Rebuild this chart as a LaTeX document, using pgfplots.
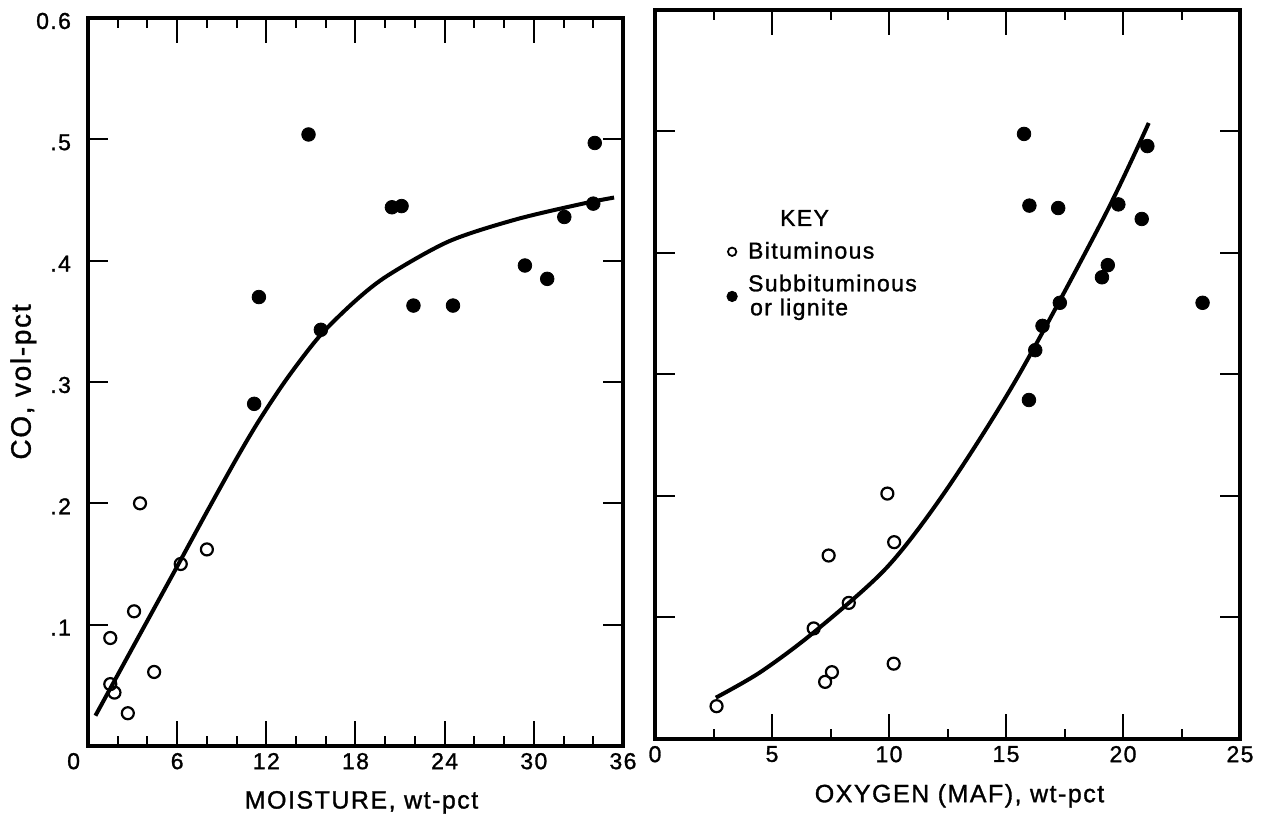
\documentclass[border=0pt]{standalone}
\usepackage{fontspec}
\setmainfont{Liberation Sans}
\newfontfamily\lblfont{Liberation Sans}[LetterSpace=6, FakeBold=1.2]
\usepackage{pgfplots}
\pgfplotsset{compat=1.18}

\pgfplotsset{
  chartbase/.style={
    scale only axis,
    axis line style={line width=1.7pt},
    ymin=0, ymax=0.6,
    tick align=inside,
    xtick pos=both, ytick pos=both,
    tick style={line width=1pt, black},
    major tick length=10pt,
    minor tick length=5pt,
    xtick style={/pgfplots/major tick length=12.5pt, /pgfplots/minor tick length=5pt},
    ticklabel style={font=\fontsize{11.5}{13}\lblfont},
    yticklabel style={xshift=-5pt, yshift=-1.5pt},
    label style={font=\fontsize{12.5}{14}\lblfont},
    xlabel style={yshift=-4pt},
    clip=false,
  },
  opn/.style={only marks, mark=o, mark size=3pt, mark options={line width=1.1pt, black}},
  fil/.style={only marks, mark=*, mark size=3.4pt, mark options={black, fill=black}},
  crv/.style={black, line width=2pt, smooth, mark=none},
  dotlegend/.style={legend image code/.code={\draw[##1] plot coordinates {(0pt,0pt)}; \path[draw=none, fill=none] (-2.6pt,0pt) rectangle (6pt,0.1pt);}},
}

\begin{document}
\begin{tikzpicture}[x=1pt,y=1pt]
\useasboundingbox (0,0) rectangle (637,408.5);

% ---------------- left panel ----------------
\begin{axis}[chartbase,
  at={(44pt,35.5pt)}, anchor=south west,
  width=267.5pt, height=364pt,
  xmin=0, xmax=36,
  xtick={0,6,12,18,24,30,36},
  xticklabels={\makebox[0pt][r]{0\hspace{4pt}},6,12,18,24,30,36},
  minor x tick num=2,
  ytick={0.1,0.2,0.3,0.4,0.5,0.6},
  yticklabels={.1,.2,.3,.4,.5,0.6},
  xlabel={MOISTURE, wt-pct},
  xlabel style={xshift=3pt},
  ylabel={CO, vol-pct},
  ylabel shift=-7pt,
  ylabel style={font=\fontsize{14}{16}\lblfont},
]
\addplot[opn] coordinates {
 (3.5,0.200) (8.0,0.162) (6.24,0.150) (3.1,0.111) (1.5,0.089)
 (4.45,0.061) (1.5,0.051) (1.78,0.044) (2.68,0.027)
};
\addplot[fil] coordinates {
 (14.84,0.504) (20.45,0.444) (21.1,0.445) (11.5,0.370) (15.67,0.343)
 (11.18,0.282) (21.9,0.363) (24.56,0.363) (29.4,0.396) (30.9,0.385)
 (32.05,0.436) (34.0,0.447) (34.1,0.497)
};
\addplot[crv] coordinates {
 (0.5,0.025) (3,0.081) (6,0.148) (8,0.193) (10,0.237) (11.5,0.268)
 (13.4,0.303) (15.6,0.338) (18,0.367) (20.2,0.388) (24.3,0.416)
 (28.8,0.434) (33.3,0.447) (35.4,0.452)
};
\end{axis}

% ---------------- right panel ----------------
\begin{axis}[chartbase,
  at={(327.5pt,39pt)}, anchor=south west,
  width=292.5pt, height=364.5pt,
  xmin=0, xmax=25,
  xtick={0,5,10,15,20,25},
  xticklabels={0,5,10,15,20,25},
  minor x tick num=1,
  ytick={0.1,0.2,0.3,0.4,0.5},
  yticklabels={},
  xlabel={OXYGEN (MAF), wt-pct},
  xlabel style={xshift=6pt},
  legend cell align=left,
  legend style={draw=none, fill=none, at={(0.112,0.737)}, anchor=north west,
    font=\fontsize{11.5}{12}\lblfont, cells={anchor=west, align=left},
    row sep=2.5pt},
]
\addlegendimage{empty legend}
\addlegendentry{\hspace*{16pt}KEY}
\addlegendimage{only marks, mark=o, mark size=2.1pt, mark options={line width=0.9pt, black}, dotlegend}
\addlegendentry{Bituminous}
\addlegendimage{only marks, mark=*, mark size=2.6pt, mark options={black, fill=black}, dotlegend}
\addlegendentry{Subbituminous\\\hspace*{1pt}or lignite}
\addplot[opn, forget plot] coordinates {
 (2.63,0.027) (6.78,0.091) (7.27,0.047) (7.56,0.055) (7.42,0.151)
 (8.28,0.112) (9.93,0.202) (10.22,0.162) (10.2,0.062)
};
\addplot[fil, forget plot] coordinates {
 (15.77,0.498) (21.04,0.488) (16.0,0.439) (17.23,0.437) (19.8,0.440)
 (20.8,0.428) (19.35,0.390) (19.1,0.380) (17.3,0.359) (23.4,0.359)
 (16.56,0.340) (16.25,0.320) (15.98,0.279)
};
\addplot[crv, forget plot] coordinates {
 (2.6,0.034) (4.5,0.055) (6.8,0.088) (9.9,0.141) (12.45,0.205)
 (15.5,0.298) (19.2,0.43) (21.1,0.507)
};
\end{axis}
\end{tikzpicture}
\end{document}
